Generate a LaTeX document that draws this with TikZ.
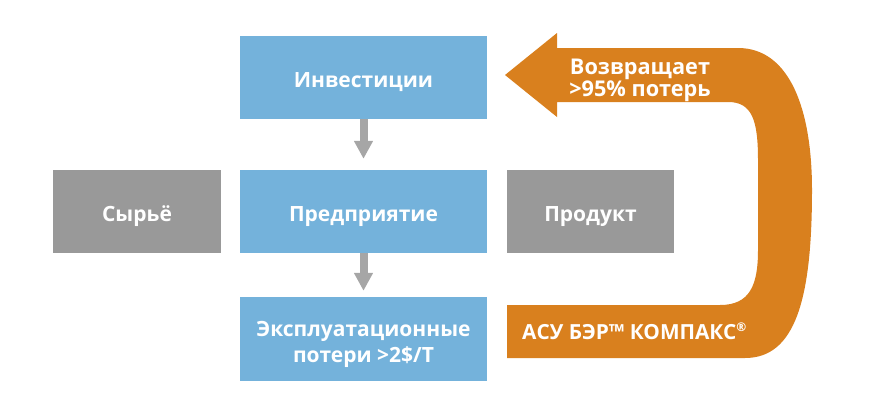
\documentclass[tikz,border=0pt]{standalone}
\usepackage{fontspec}
\setmainfont{Open Sans}
\usetikzlibrary{arrows.meta}
\definecolor{boxblue}{RGB}{116,178,219}
\definecolor{boxgray}{RGB}{153,153,153}
\definecolor{arrgray}{RGB}{166,166,166}
\definecolor{loopor}{RGB}{217,128,30}
\tikzset{
  basebox/.style={inner sep=0pt, text=white, align=center,
    font=\bfseries\fontsize{21}{26}\selectfont, text height=21pt, text depth=1pt},
  bluebox/.style={basebox, fill=boxblue, minimum width=247pt, minimum height=83pt},
  graybox/.style={basebox, fill=boxgray, minimum width=168pt, minimum height=83pt},
  downarrow/.style={draw=arrgray, line width=8pt, -{Triangle[width=18pt,length=18pt]}},
  looptext/.style={inner sep=0pt, text=white, align=center,
    font=\bfseries\fontsize{21.7}{19.5}\selectfont}
}
\begin{document}
\begin{tikzpicture}[x=1pt,y=-1pt]
\useasboundingbox (0,0) rectangle (870,400);
\node[bluebox] (inv) at (363.5,77.5) {Инвестиции};
\node[bluebox] (pred) at (363.5,211.5) {Предприятие};
\node[bluebox, minimum height=84pt, text height=47pt, text depth=1pt] (loss) at (363.5,339) {Эксплуатационные\\потери >2\$/Т};
\node[graybox] (raw) at (137,211.5) {Сырьё};
\node[graybox, minimum width=167pt] (prod) at (590.5,211.5) {Продукт};
\draw[downarrow, shorten >=11pt] (inv.south) -- (pred.north);
\draw[downarrow, shorten >=6pt] (pred.south) -- (loss.north);
\fill[loopor] (505,75) -- (557,33) -- (557,48) -- (738,48)
  .. controls (790,48) and (812,110) .. (812,190)
  .. controls (812,300) and (795,358) .. (745,358)
  -- (507,358) -- (507,305) -- (720,305)
  .. controls (750,305) and (758,285) .. (758,250)
  -- (758,160)
  .. controls (758,120) and (752,102) .. (728,102)
  -- (557,102) -- (557,117) -- cycle;
\node[looptext] (ret) at (640,80) {Возвращает\\>95\% потерь};
\node[looptext, font=\bfseries\fontsize{20.8}{21}\selectfont, anchor=base west] (asu) at (522,339) {АСУ БЭР™ КОМПАКС\textsuperscript{\fontsize{12}{12}\selectfont ®}};
\end{tikzpicture}
\end{document}
